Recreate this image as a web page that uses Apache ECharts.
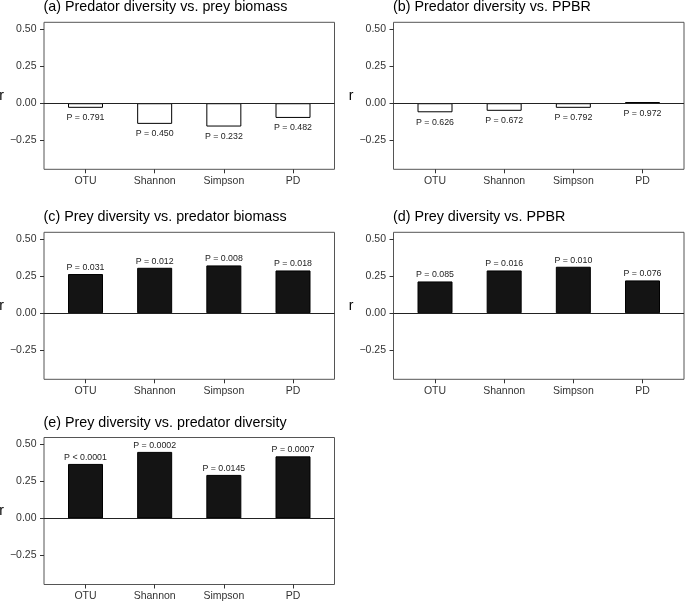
<!DOCTYPE html>
<html>
<head>
<meta charset="utf-8">
<script src="https://cdn.jsdelivr.net/npm/echarts@6/dist/echarts.min.js"></script>
<style>
html,body{margin:0;padding:0;background:#fff;}
#chart{width:685px;height:602px;}
</style>
</head>
<body>
<div id="chart"></div>
<script>
const categories = ['OTU', 'Shannon', 'Simpson', 'PD'];
const yTicks = [-0.25, 0, 0.25, 0.5];

const titles = [
  '(a) Predator diversity vs. prey biomass',
  '(b) Predator diversity vs. PPBR',
  '(c) Prey diversity vs. predator biomass',
  '(d) Prey diversity vs. PPBR',
  '(e) Prey diversity vs. predator diversity'
];

const rA = [-0.031, -0.139, -0.157, -0.099];
const pA = ['P = 0.791', 'P = 0.450', 'P = 0.232', 'P = 0.482'];
const rB = [-0.061, -0.051, -0.031, 0.008];
const pB = ['P = 0.626', 'P = 0.672', 'P = 0.792', 'P = 0.972'];
const rC = [0.264, 0.306, 0.322, 0.288];
const pC = ['P = 0.031', 'P = 0.012', 'P = 0.008', 'P = 0.018'];
const rD = [0.214, 0.288, 0.313, 0.221];
const pD = ['P = 0.085', 'P = 0.016', 'P = 0.010', 'P = 0.076'];
const rE = [0.367, 0.448, 0.293, 0.418];
const pE = ['P < 0.0001', 'P = 0.0002', 'P = 0.0145', 'P = 0.0007'];

const panelR = [rA, rB, rC, rD, rE];
const panelP = [pA, pB, pC, pD, pE];

const FONT = 'Liberation Sans, Arial, Helvetica, sans-serif';
const layout = [
  {left: 44, top: 22.3},
  {left: 393.5, top: 22.3},
  {left: 44, top: 232.3},
  {left: 393.5, top: 232.3},
  {left: 44, top: 437.5}
];
const W = 290.5, H = 147;

const option = {
  animation: false,
  backgroundColor: '#fff',
  title: [], grid: [], xAxis: [], yAxis: [], series: []
};

layout.forEach((g, i) => {
  option.title.push({
    text: titles[i], left: g.left - 0.5, top: g.top - 21.8, padding: 0,
    textStyle: {fontFamily: FONT, fontSize: 14.3, fontWeight: 'normal', color: '#000'}
  });
  option.grid.push({
    left: g.left, top: g.top, width: W, height: H,
    containLabel: false, outerBoundsMode: 'none',
    show: true, borderColor: '#555', borderWidth: 1, backgroundColor: 'transparent'
  });
  option.xAxis.push({
    type: 'value', gridIndex: i, min: 0.4, max: 4.6,
    axisLine: {show: false, onZero: false}, splitLine: {show: false},
    axisTick: {show: true, customValues: [1, 2, 3, 4], length: 4, lineStyle: {color: '#333'}},
    axisLabel: {
      show: true, customValues: [1, 2, 3, 4], margin: 6,
      formatter: v => categories[Math.round(v) - 1] || '',
      fontFamily: FONT, fontSize: 10.5, color: '#333'
    }
  });
  option.yAxis.push({
    type: 'value', gridIndex: i, min: -0.445, max: 0.545,
    name: 'r', nameLocation: 'middle', nameRotate: 0, nameGap: 40,
    nameTextStyle: {fontFamily: FONT, fontSize: 14, color: '#000'},
    axisLine: {show: false, onZero: false}, splitLine: {show: false},
    axisTick: {show: true, customValues: yTicks, length: 4, lineStyle: {color: '#333'}},
    axisLabel: {
      show: true, customValues: yTicks, margin: 7.5,
      formatter: v => (v < 0 ? '\u2212' : '') + Math.abs(v).toFixed(2),
      fontFamily: FONT, fontSize: 10.5, color: '#333'
    }
  });
  const vals = panelR[i];
  const labs = panelP[i];
  option.series.push({
    type: 'bar', xAxisIndex: i, yAxisIndex: i, barWidth: 35,
    data: vals.map((v, k) => ({
      value: [k + 1, v],
      itemStyle: {color: v > 0 ? '#141414' : '#ffffff', borderColor: '#000', borderWidth: 1},
      label: {
        show: true, position: v > 0.02 ? 'top' : 'bottom', distance: v > 0.02 ? 2 : 5.5,
        formatter: labs[k], fontFamily: FONT, fontSize: 8.8, color: '#222'
      }
    })),
    markLine: {
      silent: true, symbol: 'none', animation: false,
      label: {show: false},
      lineStyle: {color: '#222', width: 1, type: 'solid'},
      data: [{yAxis: 0}]
    }
  });
});

const chart = echarts.init(document.getElementById('chart'), null, {renderer: 'canvas'});
chart.setOption(option);
</script>
</body>
</html>
